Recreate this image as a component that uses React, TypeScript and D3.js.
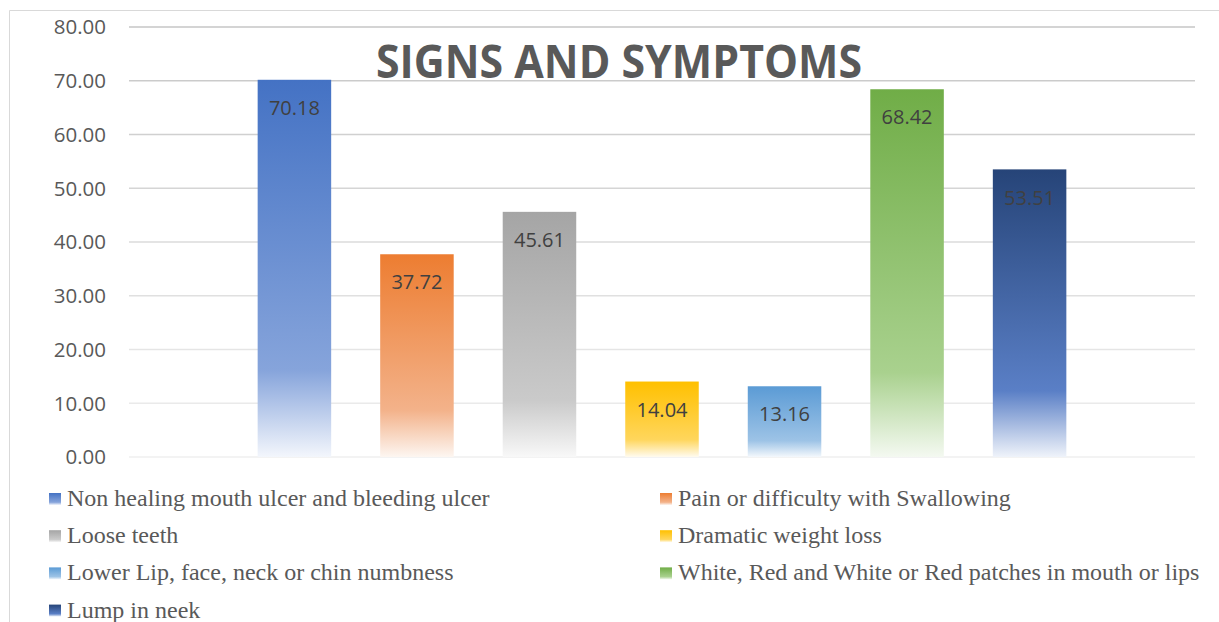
import React from 'react'
import * as d3 from 'd3'

const symptoms = [
  'Non healing mouth ulcer and bleeding ulcer',
  'Pain or difficulty with Swallowing',
  'Loose teeth',
  'Dramatic weight loss',
  'Lower Lip, face, neck or chin numbness',
  'White, Red and White or Red patches in mouth or lips',
  'Lump in neek',
]
const percents = [70.18, 37.72, 45.61, 14.04, 13.16, 68.42, 53.51]
const yTicks = [0, 10, 20, 30, 40, 50, 60, 70, 80]

// gradient stops per series: top, ~77% down, bottom
const fills = [
  ['#4472C4', '#86A4DB', '#F3F6FC'],
  ['#ED7D31', '#F3B28A', '#FDF6F1'],
  ['#A5A5A5', '#CACACA', '#F8F8F8'],
  ['#FFC000', '#FFD65C', '#FFFBF0'],
  ['#5B9BD5', '#9DC3E6', '#F4F8FC'],
  ['#70AD47', '#A9D18E', '#F4F9F1'],
  ['#264478', '#5A7FC6', '#EFF3FA'],
]

const W = 1219
const H = 622
const plot = { left: 129, right: 1195, top: 27, bottom: 457 }

export default function App() {
  const x = d3.scaleBand<string>()
    .domain(symptoms)
    .range([plot.left, plot.right])
    .paddingInner(0.4)
    .paddingOuter(1.05)

  const y = d3.scaleLinear().domain([0, 80]).range([plot.bottom, plot.top])
  const gridColor = d3.interpolateRgb('#efefef', '#c6c6c6')

  const legendX = [49, 660]
  const legendY0 = 506
  const legendStep = 37.2

  return (
    <svg
      width={W}
      height={H}
      style={{ position: 'absolute', left: 0, top: 0, background: '#fff' }}
    >
      <defs>
        {fills.map((f, i) => (
          <linearGradient key={i} id={`g${i}`} x1="0" y1="0" x2="0" y2="1">
            <stop offset="0" stopColor={f[0]} />
            <stop offset="0.77" stopColor={f[1]} />
            <stop offset="1" stopColor={f[2]} />
          </linearGradient>
        ))}
      </defs>

      {/* chart area border */}
      <path d={`M9.5,${H} V10.5 H${W}`} fill="none" stroke="#d9d9d9" strokeWidth={1} />

      {yTicks.map(t => (
        <g key={t}>
          <line
            x1={plot.left}
            x2={plot.right}
            y1={y(t)}
            y2={y(t)}
            stroke={gridColor(t / 80)}
            strokeWidth={1.6}
          />
          <text
            x={106}
            y={y(t)}
            dy="0.36em"
            textAnchor="end"
            fontFamily="'Open Sans', sans-serif"
            fontSize={20.5}
            fill="#595959"
          >
            {t.toFixed(2)}
          </text>
        </g>
      ))}

      <text
        x={619}
        y={78}
        textAnchor="middle"
        fontFamily="'Open Sans', sans-serif"
        fontWeight={700}
        fontSize={46}
        fill="#595959"
        textLength={486}
        lengthAdjust="spacingAndGlyphs"
      >
        SIGNS AND SYMPTOMS
      </text>

      {symptoms.map((s, i) => (
        <g key={s}>
          <rect
            x={x(s)}
            y={y(percents[i])}
            width={x.bandwidth()}
            height={plot.bottom - y(percents[i])}
            fill={`url(#g${i})`}
          />
          <text
            x={(x(s) ?? 0) + x.bandwidth() / 2}
            y={y(percents[i]) + 28}
            dy="0.36em"
            textAnchor="middle"
            fontFamily="'Open Sans', sans-serif"
            fontSize={20}
            fill="#404040"
          >
            {percents[i].toFixed(2)}
          </text>
        </g>
      ))}

      {symptoms.map((s, i) => {
        const lx = legendX[i % 2]
        const ly = legendY0 + Math.floor(i / 2) * legendStep
        return (
          <g key={`leg-${s}`}>
            <rect x={lx} y={ly - 13} width={12} height={12} fill={`url(#g${i})`} />
            <text
              x={lx + 18}
              y={ly}
              fontFamily="'Liberation Serif', 'Times New Roman', serif"
              fontSize={24}
              fill="#595959"
            >
              {s}
            </text>
          </g>
        )
      })}
    </svg>
  )
}
